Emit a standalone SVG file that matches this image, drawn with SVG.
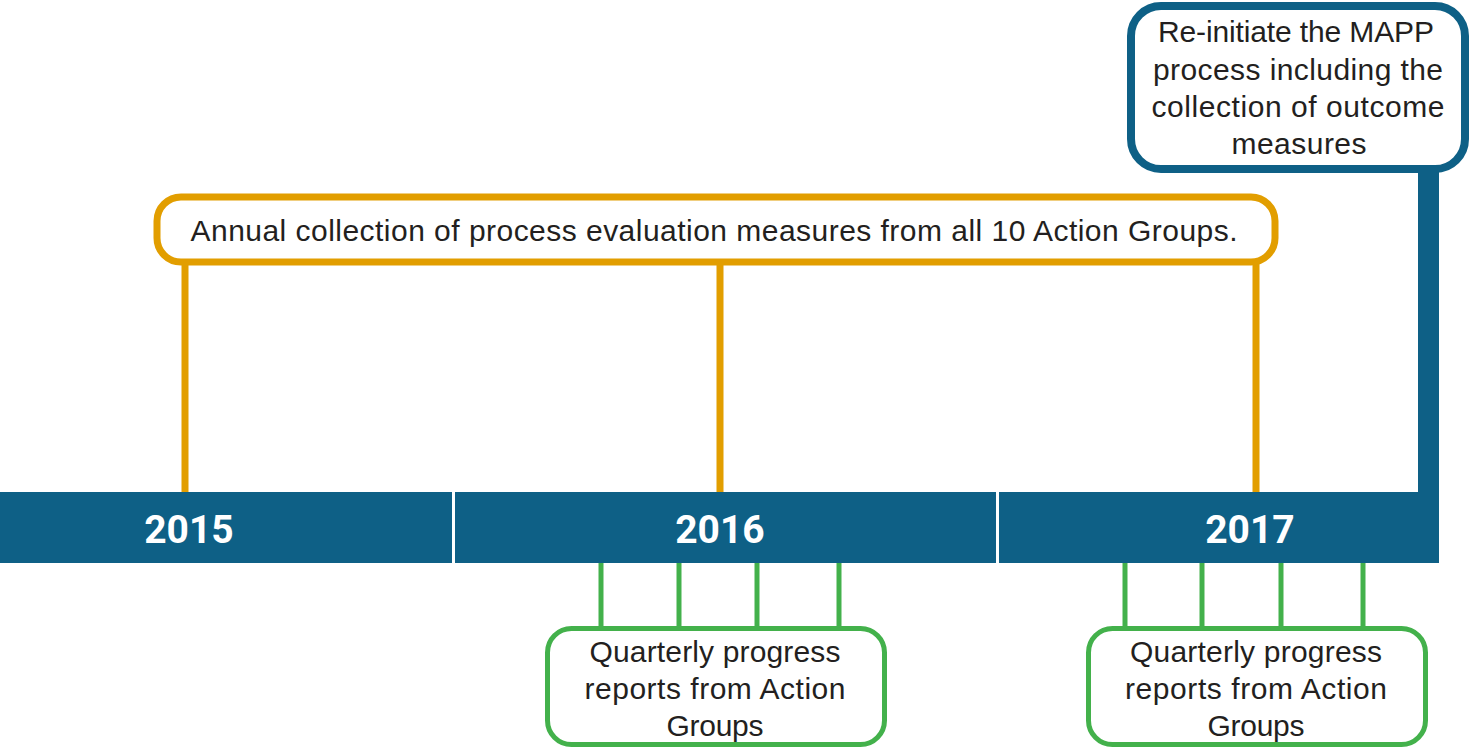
<svg xmlns="http://www.w3.org/2000/svg" width="1470" height="748" viewBox="0 0 1470 748">
<style>
.t{font-family:"Liberation Sans",Arial,sans-serif;font-size:30px;fill:#231f20;text-anchor:middle}
.yr{font-family:Roboto,"Liberation Sans",sans-serif;font-weight:bold;font-size:39px;fill:#ffffff;text-anchor:middle}
.bar{fill:#0e6086}
.orange{stroke:#e29e00;fill:none}
.green{stroke:#43b14b;fill:none}
.blue{stroke:#0e6086;fill:none}
</style>
<rect width="1470" height="748" fill="#ffffff"/>
<g id="connectors">
<line class="orange" x1="185" y1="262" x2="185" y2="493" stroke-width="7"/>
<line class="orange" x1="720" y1="262" x2="720" y2="493" stroke-width="7"/>
<line class="orange" x1="1256" y1="262" x2="1256" y2="493" stroke-width="7"/>
<rect x="1418" y="168" width="21" height="325" fill="#0e6086"/>
<line class="green" x1="601" y1="562" x2="601" y2="628" stroke-width="5"/>
<line class="green" x1="679" y1="562" x2="679" y2="628" stroke-width="5"/>
<line class="green" x1="757" y1="562" x2="757" y2="628" stroke-width="5"/>
<line class="green" x1="839" y1="562" x2="839" y2="628" stroke-width="5"/>
<line class="green" x1="1125" y1="562" x2="1125" y2="628" stroke-width="5"/>
<line class="green" x1="1202" y1="562" x2="1202" y2="628" stroke-width="5"/>
<line class="green" x1="1281" y1="562" x2="1281" y2="628" stroke-width="5"/>
<line class="green" x1="1363" y1="562" x2="1363" y2="628" stroke-width="5"/>
</g>
<g id="timeline">
<rect class="bar" x="0" y="492" width="1439" height="71"/>
<rect x="452" y="492" width="3" height="71" fill="#ffffff"/>
<rect x="996" y="492" width="3" height="71" fill="#ffffff"/>
<text class="yr" x="189" y="543">2015</text>
<text class="yr" x="720" y="543">2016</text>
<text class="yr" x="1250" y="543">2017</text>
</g>
<g id="annual">
<rect class="orange" x="157" y="197" width="1118" height="65" rx="24" stroke-width="7" fill="#ffffff"/>
<text class="t" x="714" y="241" textLength="1047" lengthAdjust="spacing">Annual collection of process evaluation measures from all 10 Action Groups.</text>
</g>
<g id="mapp">
<rect class="blue" x="1131" y="6" width="334" height="163" rx="30" stroke-width="8" fill="#ffffff"/>
<text class="t" x="1296" y="42" textLength="276" lengthAdjust="spacing">Re-initiate the MAPP</text>
<text class="t" x="1298" y="80" textLength="290" lengthAdjust="spacing">process including the</text>
<text class="t" x="1298" y="117" textLength="293" lengthAdjust="spacing">collection of outcome</text>
<text class="t" x="1299" y="154" textLength="135" lengthAdjust="spacing">measures</text>
</g>
<g id="quarterly2016">
<rect class="green" x="547.5" y="628.5" width="337" height="116" rx="24" stroke-width="5" fill="#ffffff"/>
<text class="t" x="715" y="662" textLength="251" lengthAdjust="spacing">Quarterly progress</text>
<text class="t" x="715" y="699" textLength="261" lengthAdjust="spacing">reports from Action</text>
<text class="t" x="715" y="736" textLength="97" lengthAdjust="spacing">Groups</text>
</g>
<g id="quarterly2017">
<rect class="green" x="1088.5" y="628.5" width="337" height="116" rx="24" stroke-width="5" fill="#ffffff"/>
<text class="t" x="1256" y="662" textLength="252" lengthAdjust="spacing">Quarterly progress</text>
<text class="t" x="1256" y="699" textLength="262" lengthAdjust="spacing">reports from Action</text>
<text class="t" x="1256" y="736" textLength="97" lengthAdjust="spacing">Groups</text>
</g>
</svg>
